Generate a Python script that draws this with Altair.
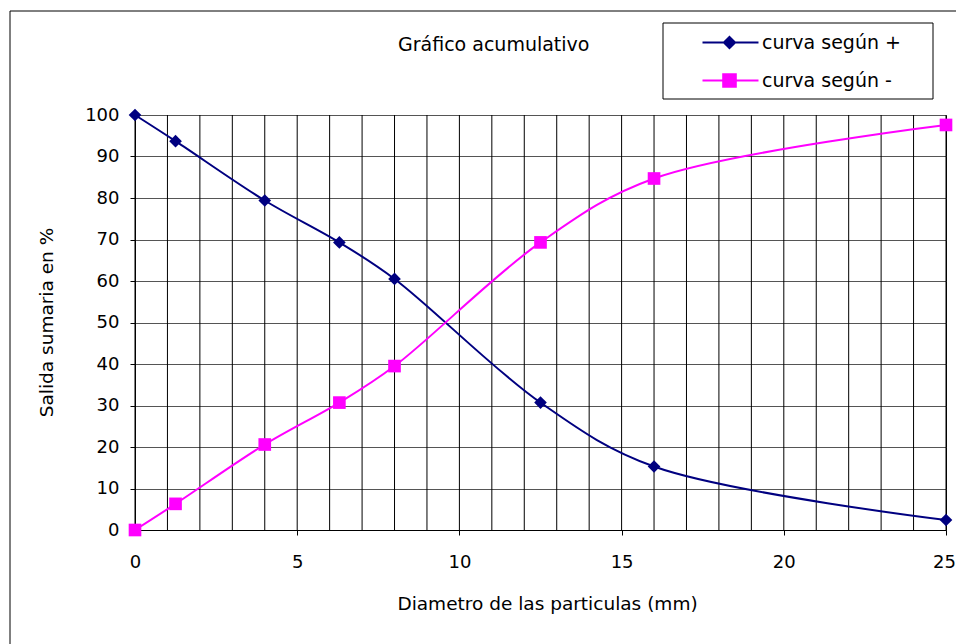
import altair as alt
import pandas as pd

# ---- data ----
diam = [0, 1.25, 4, 6.3, 8, 12.5, 16, 25]
curva_mas = [100, 93.7, 79.4, 69.3, 60.5, 30.7, 15.3, 2.4]
curva_menos = [0, 6.3, 20.6, 30.7, 39.5, 69.3, 84.7, 97.6]
series = ["curva según +", "curva según -"]
colors = ["#000080", "#FF00FF"]
shapes = ["diamond", "square"]
x_grid_values = list(range(0, 26))
x_tick_values = [0, 5, 10, 15, 20, 25]
y_values = list(range(0, 101, 10))
chart_title = "Gráfico acumulativo"

rows = []
for d, a, b in zip(diam, curva_mas, curva_menos):
    rows.append({"x": d, "y": a, "serie": series[0]})
    rows.append({"x": d, "y": b, "serie": series[1]})
df = pd.DataFrame(rows)
grid_df = pd.DataFrame({"x": x_grid_values})

FONT = "DejaVu Sans"

# legend symbols: line + marker, drawn as custom paths (unit = sqrt(size)/2 px)
legend_paths = [
    "M2.857,0L10.857,0M6.714,-0.8L7.514,0L6.714,0.8L5.914,0Z",
    "M2.857,0L10.857,0M5.814,-0.9L7.614,-0.9L7.614,0.9L5.814,0.9Z",
]

x_axis = alt.Axis(
    values=x_tick_values,
    title="Diametro de las particulas (mm)",
    tickSize=5,
    tickColor="black",
    labelPadding=18,
    labelFontSize=18,
    labelFont=FONT,
    labelColor="black",
    labelFlush=False,
    labelOverlap=False,
    labelOffset={"condition": {"test": "datum.value === 25", "value": -2}, "value": 0},
    grid=False,
    domainColor="black",
    titleFont=FONT,
    titleFontSize=18.5,
    titleFontWeight="normal",
    titleColor="black",
    titleX=412,
    titleY=73,
    titleBaseline="middle",
    titleAlign="center",
)
y_axis = alt.Axis(
    values=y_values,
    title="Salida sumaria en %",
    tickSize=5,
    tickColor="black",
    labelPadding=11,
    labelFontSize=18,
    labelFont=FONT,
    labelColor="black",
    labelOverlap=False,
    grid=True,
    gridColor="#555555",
    gridWidth=1,
    domainColor="black",
    titleFont=FONT,
    titleFontSize=18.5,
    titleFontWeight="normal",
    titleColor="black",
    titleAngle=-90,
    titleX=-89,
    titleY=207,
    titleBaseline="middle",
    titleAlign="center",
)
x_scale = alt.Scale(domain=[0, 25], nice=False, zero=False)
y_scale = alt.Scale(domain=[0, 100], nice=False)


def X():
    return alt.X("x:Q", scale=x_scale, axis=x_axis)


def Y():
    return alt.Y("y:Q", scale=y_scale, axis=y_axis)


base = alt.Chart(df)
one = pd.DataFrame({"t": [chart_title]})

# outer chart frame
border = alt.Chart(one).mark_rect(
    fill="transparent", stroke="black", strokeWidth=1
).encode(
    x=alt.value(-125), x2=alt.value(830), y=alt.value(-104), y2=alt.value(540)
)

# legend frame
legend_box = alt.Chart(one).mark_rect(
    fill="white", stroke="black", strokeWidth=1
).encode(
    x=alt.value(528), x2=alt.value(798), y=alt.value(-92), y2=alt.value(-16)
)

title_text = alt.Chart(one).mark_text(
    align="left", baseline="alphabetic", font=FONT, fontSize=19, color="black"
).encode(text="t:N", x=alt.value(263), y=alt.value(-64))

# vertical grid lines every 1 mm
vgrid = alt.Chart(grid_df).mark_rule(color="#000000", strokeWidth=1).encode(x=X())

lines = base.mark_line(interpolate="catmull-rom", strokeWidth=2).encode(
    x=X(),
    y=Y(),
    color=alt.Color("serie:N", scale=alt.Scale(domain=series, range=colors), legend=None),
    detail="serie:N",
)

points = base.mark_point(filled=True, size=160, opacity=1).encode(
    x=X(),
    y=Y(),
    color=alt.Color("serie:N", scale=alt.Scale(domain=series, range=colors), legend=None),
    shape=alt.Shape("serie:N", scale=alt.Scale(domain=series, range=shapes), legend=None),
)

leg = alt.Legend(
    title=None,
    orient="none",
    legendX=528,
    legendY=-92,
    padding=10,
    strokeColor="transparent",
    symbolSize=196,
    symbolStrokeWidth=2,
    symbolOpacity=1,
    labelOffset=70,
    labelFont=FONT,
    labelFontSize=19,
    labelColor="black",
    labelLimit=400,
    rowPadding=17,
)

legend_layer = base.transform_filter("false").mark_point(filled=True, size=196, opacity=1).encode(
    x=X(),
    y=Y(),
    color=alt.Color("serie:N", scale=alt.Scale(domain=series, range=colors), legend=leg),
    stroke=alt.Stroke("serie:N", scale=alt.Scale(domain=series, range=colors), legend=leg),
    shape=alt.Shape("serie:N", scale=alt.Scale(domain=series, range=legend_paths), legend=leg),
)

chart = (
    alt.layer(border, legend_box, title_text, vgrid, lines, points, legend_layer)
    .resolve_scale(color="independent", shape="independent", stroke="independent")
    .properties(
        width=811,
        height=415,
        autosize=alt.AutoSizeParams(type="none"),
        padding={"left": 135, "top": 115, "right": 10, "bottom": 114},
        background="white",
    )
    .configure_view(stroke="black", strokeWidth=1)
)

chart.save("out.html", embed_options={"renderer": "svg", "actions": False})
